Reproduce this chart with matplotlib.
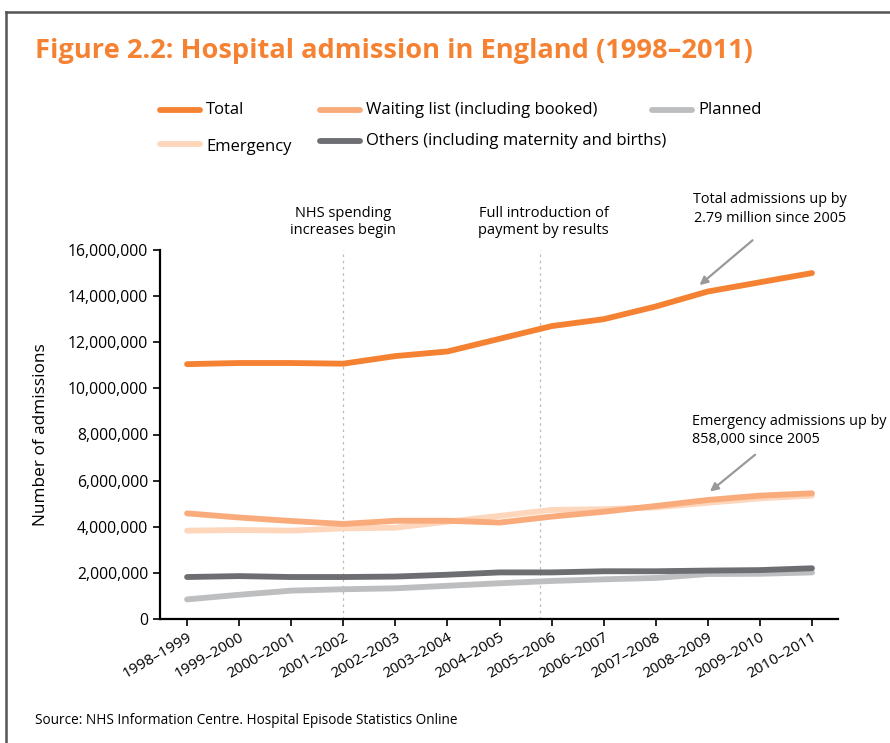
import matplotlib
matplotlib.use("Agg")
import matplotlib.pyplot as plt
from matplotlib.lines import Line2D
from matplotlib.ticker import FuncFormatter

plt.rcParams['font.family'] = ['Open Sans', 'DejaVu Sans']

# ---- data (admissions, millions) ----
years = ['1998–1999', '1999–2000', '2000–2001', '2001–2002', '2002–2003',
         '2003–2004', '2004–2005', '2005–2006', '2006–2007', '2007–2008',
         '2008–2009', '2009–2010', '2010–2011']
total = [11.05, 11.10, 11.10, 11.07, 11.40, 11.60, 12.15, 12.70, 13.00,
         13.55, 14.20, 14.60, 15.00]
waiting = [4.58, 4.40, 4.25, 4.12, 4.26, 4.26, 4.18, 4.44, 4.65, 4.90, 5.16, 5.35, 5.45]
emergency = [3.83, 3.86, 3.83, 3.93, 3.96, 4.22, 4.47, 4.73, 4.76, 4.84, 5.04, 5.23, 5.35]
others = [1.82, 1.86, 1.82, 1.82, 1.84, 1.92, 2.02, 2.02, 2.07, 2.07, 2.10, 2.12, 2.20]
planned = [0.85, 1.05, 1.23, 1.29, 1.33, 1.44, 1.55, 1.65, 1.72, 1.78, 1.95, 1.96, 2.02]

orange = '#F58232'
c_wait = '#F9AB7C'
c_emer = '#FDD6BC'
c_plan = '#BDBEC0'
c_other = '#6D6E71'

W, H = 890, 743
fig = plt.figure(figsize=(W / 100, H / 100), dpi=100)

def fx(px):
    return px / W

def fy(py):
    return 1 - py / H

ax = fig.add_axes([fx(160), fy(619), fx(838) - fx(160), fy(250) - fy(619)])

x = list(range(len(years)))
lw = 4.2
series = [(planned, c_plan), (others, c_other), (emergency, c_emer),
          (waiting, c_wait), (total, orange)]
for vals, col in series:
    ax.plot(x, [v * 1e6 for v in vals], color=col, lw=lw, solid_capstyle='round',
            solid_joinstyle='round')

# milestone markers
for xv in [3, 6.78]:
    ax.axvline(xv, color='#BBBBBB', lw=0.9, ls=(0, (2, 3)), zorder=0)

ax.set_xlim(-0.52, 12.5)
ax.set_ylim(0, 16e6)
ax.set_yticks([i * 2e6 for i in range(9)])
ax.yaxis.set_major_formatter(FuncFormatter(lambda v, p: f'{int(v):,}'))
ax.set_xticks(x)
ax.set_xticklabels(years, rotation=30, ha='right', rotation_mode='anchor')
ax.tick_params(axis='both', direction='out', length=5, width=1.2, labelsize=11,
               colors='black')
ax.tick_params(axis='y', labelsize=11.3)
ax.tick_params(axis='x', pad=3)
for s in ['top', 'right']:
    ax.spines[s].set_visible(False)
for s in ['left', 'bottom']:
    ax.spines[s].set_linewidth(1.6)
ax.set_ylabel('Number of admissions', fontsize=12.4, labelpad=14)

ax.text(3, 16.5e6, 'NHS spending\nincreases begin', ha='center', va='bottom',
        fontsize=10.5, linespacing=1.25)
ax.text(6.85, 16.5e6, 'Full introduction of\npayment by results', ha='center',
        va='bottom', fontsize=10.5, linespacing=1.25)
ax.annotate('', xy=(9.8, 14.4e6), xytext=(10.9, 16.5e6),
            arrowprops=dict(arrowstyle='-|>', color='#999999', lw=1.6,
                            mutation_scale=12), annotation_clip=False)
ax.text(11.2, 17.05e6, 'Total admissions up by\n2.79 million since 2005', ha='center',
        va='bottom', fontsize=10.4, linespacing=1.3)
ax.annotate('', xy=(10.0, 5.45e6), xytext=(10.95, 7.2e6),
            arrowprops=dict(arrowstyle='-|>', color='#999999', lw=1.6,
                            mutation_scale=12), annotation_clip=False)
ax.text(9.7, 7.45e6, 'Emergency admissions up by\n858,000 since 2005', ha='left',
        va='bottom', fontsize=10.4, linespacing=1.3)

# title
fig.text(fx(35), fy(51), 'Figure 2.2: Hospital admission in England (1998–2011)',
         color=orange, fontsize=19.6, fontweight='bold', va='center', ha='left')

# legend drawn by hand
legend_items = [('Total', orange, 160, 110, 110),
                ('Waiting list (including booked)', c_wait, 320, 110, 110),
                ('Planned', c_plan, 652, 110, 110),
                ('Emergency', c_emer, 160, 144, 147),
                ('Others (including maternity and births)', c_other, 320, 141, 141)]
for label, col, x0, ly, ty in legend_items:
    fig.add_artist(Line2D([fx(x0), fx(x0 + 40)], [fy(ly), fy(ly)], color=col,
                          lw=4.2, solid_capstyle='round'))
    fig.text(fx(x0 + 46), fy(ty), label, fontsize=12, va='center', ha='left')

fig.text(fx(35), fy(720), 'Source: NHS Information Centre. Hospital Episode Statistics Online',
         fontsize=9.8, va='center', ha='left')

# outer frame
fig.add_artist(Line2D([fx(6), 1], [fy(12), fy(12)], color='#555555', lw=1.8))
fig.add_artist(Line2D([fx(6), fx(6)], [fy(12), 0], color='#555555', lw=1.8))

fig.savefig('out.png', dpi=100)
